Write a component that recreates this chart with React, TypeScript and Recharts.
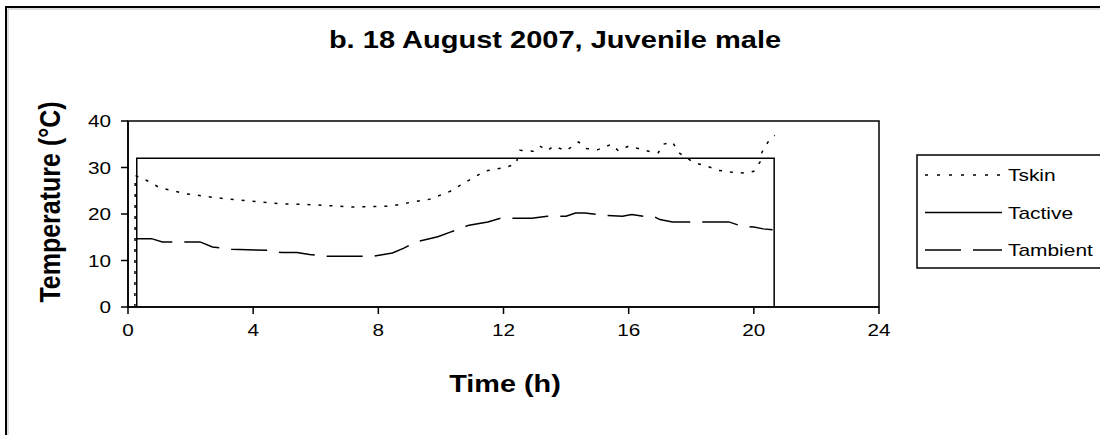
import { Line, LineChart, ReferenceArea, XAxis, YAxis } from "recharts";

const hourTicks = [0, 4, 8, 12, 16, 20, 24];
const tempTicks = [0, 10, 20, 30, 40];

const skinHours = [
  0.22, 0.23, 0.6, 1.0, 1.8, 2.8, 3.9, 4.9, 5.9, 7.2, 8.4, 9.1, 9.65, 10.3, 10.8,
  11.4, 12.1, 12.4, 12.52, 12.95, 13.16, 13.4, 13.6, 14.0, 14.4, 14.65, 15.0,
  15.45, 15.67, 16.0, 16.3, 16.7, 16.95, 17.1, 17.4, 17.6, 17.8, 18.1, 18.5,
  18.86, 19.3, 19.7, 20.0, 20.2, 20.26, 20.5, 20.67,
];
const skinTemps = [
  0, 28.3, 27.2, 25.7, 24.4, 23.5, 22.8, 22.2, 22.0, 21.5, 21.7, 22.6, 23.2, 24.9,
  26.9, 29.2, 30.1, 30.8, 33.7, 33.5, 34.6, 33.6, 34.6, 33.6, 35.5, 34.1, 33.8,
  35.0, 33.6, 34.6, 34.1, 33.4, 33.2, 35.0, 35.5, 33.2, 32.3, 31.0, 30.3, 29.4,
  29.0, 28.8, 29.2, 31.2, 33.3, 36.0, 36.9,
];

const activeHours = [0.28, 0.28, 20.65, 20.65];
const activeTemps = [0, 32, 32, 0];

const ambientHours = [
  0.28, 0.75, 1.1, 2.3, 2.7, 3.3, 4.5, 4.9, 5.4, 5.8, 6.35, 7.8, 8.45, 8.8, 9.2,
  9.9, 10.3, 10.9, 11.5, 11.9, 12.9, 13.4, 14.0, 14.3, 14.6, 15.0, 15.3, 15.8,
  16.1, 16.5, 16.8, 17.0, 17.4, 19.2, 19.6, 20.0, 20.3, 20.6,
];
const ambientTemps = [
  14.7, 14.7, 14.0, 14.0, 12.9, 12.4, 12.2, 11.7, 11.7, 11.3, 10.9, 10.9, 11.6,
  12.6, 14.0, 15.1, 16.1, 17.6, 18.3, 19.1, 19.1, 19.5, 19.5, 20.2, 20.2, 19.9,
  19.7, 19.5, 19.9, 19.5, 19.5, 18.8, 18.3, 18.3, 17.4, 17.2, 16.8, 16.6,
];

const pair = (hours: number[], temps: number[]) =>
  hours.map((h, i) => ({ h, t: temps[i] }));

const skin = pair(skinHours, skinTemps);
const active = pair(activeHours, activeTemps);
const ambient = pair(ambientHours, ambientTemps);

const legendItems = [
  { name: "Tskin", dash: "3 9" },
  { name: "Tactive", dash: undefined },
  { name: "Tambient", dash: "36 12" },
];

// the source picture is an Excel chart stretched sideways, so text gets a scaleX
const font = "'Liberation Sans', Arial, sans-serif";
const stretch = 1.22;

function XTick({ x, y, payload }: any) {
  return (
    <text
      transform={`translate(${x},${y}) scale(${stretch},1)`}
      textAnchor="middle"
      dy="0.71em"
      fontFamily={font}
      fontSize={17}
      fill="#000"
    >
      {payload.value}
    </text>
  );
}

function YTick({ x, y, payload }: any) {
  return (
    <text
      transform={`translate(${x},${y}) scale(${stretch},1)`}
      textAnchor="end"
      dy="0.355em"
      fontFamily={font}
      fontSize={17}
      fill="#000"
    >
      {payload.value}
    </text>
  );
}

export default function App() {
  return (
    <div
      style={{
        position: "absolute",
        left: 0,
        top: 0,
        width: 1100,
        height: 435,
        overflow: "hidden",
        background: "#fff",
        fontFamily: font,
      }}
    >
      <LineChart
        width={1100}
        height={435}
        margin={{ top: 121, right: 221, bottom: 98, left: 0 }}
      >
        <XAxis
          dataKey="h"
          type="number"
          domain={[0, 24]}
          ticks={hourTicks}
          allowDataOverflow
          height={30}
          tickSize={7}
          tickMargin={10}
          tick={<XTick />}
          axisLine={{ stroke: "#000", strokeWidth: 1.5 }}
          tickLine={{ stroke: "#000", strokeWidth: 1.5 }}
        />
        <YAxis
          type="number"
          domain={[0, 40]}
          ticks={tempTicks}
          allowDataOverflow
          width={128}
          tickSize={7}
          tickMargin={10}
          tick={<YTick />}
          axisLine={{ stroke: "#000", strokeWidth: 1.5 }}
          tickLine={{ stroke: "#000", strokeWidth: 1.5 }}
        />
        <ReferenceArea
          x1={0}
          x2={24}
          y1={0}
          y2={40}
          fill="none"
          fillOpacity={0}
          stroke="#000"
          strokeWidth={1.5}
        />
        <Line
          data={skin}
          dataKey="t"
          type="linear"
          stroke="#000"
          strokeWidth={1.5}
          strokeDasharray="3 8"
          dot={false}
          isAnimationActive={false}
        />
        <Line
          data={active}
          dataKey="t"
          type="linear"
          stroke="#000"
          strokeWidth={1.5}
          dot={false}
          isAnimationActive={false}
        />
        <Line
          data={ambient}
          dataKey="t"
          type="linear"
          stroke="#000"
          strokeWidth={1.5}
          strokeDasharray="36 12"
          dot={false}
          isAnimationActive={false}
        />
      </LineChart>

      <svg
        width={1100}
        height={435}
        style={{ position: "absolute", left: 0, top: 0, pointerEvents: "none" }}
      >
        {/* outer chart frame, only left and top edges fall inside the picture */}
        <path d="M6 435 V7 H1100" fill="none" stroke="#000" strokeWidth={2} />
        <path d="M8 435 V9 H1100" fill="none" stroke="#bbb" strokeWidth={1} />

        <text
          transform={`translate(555,48) scale(1.21,1)`}
          textAnchor="middle"
          fontFamily={font}
          fontWeight="bold"
          fontSize={24}
          fill="#000"
        >
          b. 18 August 2007, Juvenile male
        </text>
        <text
          transform={`translate(505,392) scale(1.2,1)`}
          textAnchor="middle"
          fontFamily={font}
          fontWeight="bold"
          fontSize={24}
          fill="#000"
        >
          Time (h)
        </text>
        <text
          transform="translate(60,202) scale(1.21,1) rotate(-90)"
          textAnchor="middle"
          fontFamily={font}
          fontWeight="bold"
          fontSize={25}
          fill="#000"
        >
          Temperature (°C)
        </text>

        {/* legend */}
        <rect x={917} y={155} width={200} height={113} fill="#fff" stroke="#000" strokeWidth={1.5} />
        {legendItems.map((item, i) => {
          const y = 175 + i * 37.5;
          return (
            <g key={item.name}>
              <line
                x1={925}
                x2={1002}
                y1={y}
                y2={y}
                stroke="#000"
                strokeWidth={1.5}
                strokeDasharray={item.dash}
              />
              <text
                transform={`translate(1008,${y + 6}) scale(1.23,1)`}
                fontFamily={font}
                fontSize={17}
                fill="#000"
              >
                {item.name}
              </text>
            </g>
          );
        })}
      </svg>
    </div>
  );
}
